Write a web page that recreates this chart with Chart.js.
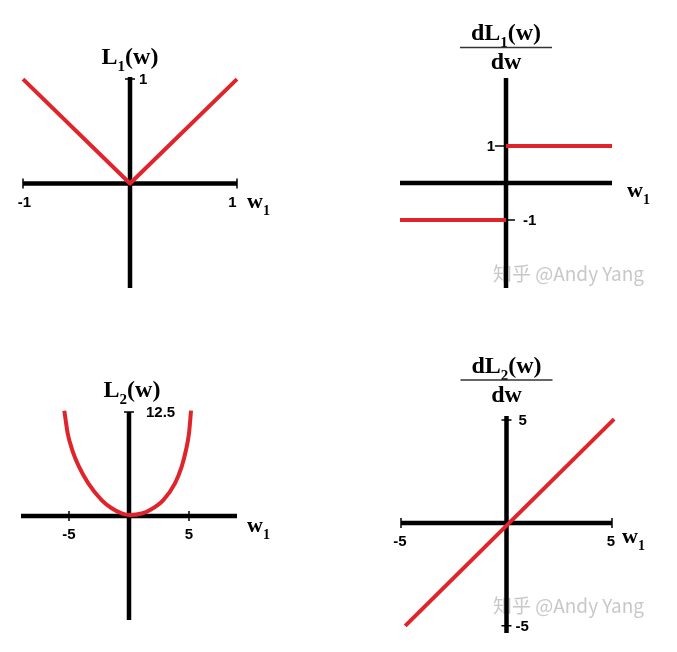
<!DOCTYPE html>
<html><head><meta charset="utf-8">
<script src="https://cdn.jsdelivr.net/npm/chart.js@4"></script>
<style>
html,body{margin:0;padding:0;background:#fff;width:677px;height:652px;overflow:hidden}
canvas.c{position:absolute;left:0;top:0}
</style></head><body>
<canvas id="c1" class="c" width="677" height="652"></canvas>
<canvas id="c2" class="c" width="677" height="652"></canvas>
<canvas id="c3" class="c" width="677" height="652"></canvas>
<canvas id="c4" class="c" width="677" height="652"></canvas>
<script>
// ---------- data ----------
const l1X = [-1, 0, 1];
const l1Y = [1, 0, 1];

const dl1UpperX = [0, 1];
const dl1UpperY = [1, 1];
const dl1LowerX = [-1, 0];
const dl1LowerY = [-1, -1];

const l2X = [-5.39, -5.28, -5.11, -4.73, -4.17, -3.39, -2.28, -1.44, -0.61, 0.08, 1.06, 1.75, 2.86, 3.83, 4.39, 4.75, 5.0, 5.17];
const l2Y = [12.66, 11.54, 9.94, 7.93, 5.93, 3.93, 1.92, 0.93, 0.32, 0.12, 0.3, 0.72, 1.92, 3.93, 5.93, 7.93, 9.94, 12.66];

const dl2X = [-4.8, 5.1];
const dl2Y = [-5, 5.05];

// tick values & labels
const l1XTicks = [-1, 1];      const l1XLabels = ['-1', '1'];
const l1YTicks = [1];          const l1YLabels = ['1'];
const dl1YTicks = [1, -1];     const dl1YLabels = ['1', '-1'];
const l2XTicks = [-5, 5];      const l2XLabels = ['-5', '5'];
const l2YTicks = [12.5];       const l2YLabels = ['12.5'];
const dl2XTicks = [-5, 5];     const dl2XLabels = ['-5', '5'];
const dl2YTicks = [5, -5];     const dl2YLabels = ['5', '-5'];

const watermark = '知乎 @Andy Yang';

// ---------- helpers ----------
const RED = '#e0242c';
const pts = (xs, ys) => xs.map((v, i) => ({x: v, y: ys[i]}));
const SERIF = '"Liberation Serif", "Times New Roman", serif';
const SANS = '"Liberation Sans", Arial, sans-serif';

function drawRich(ctx, parts, x, y, size, align) {
  const subSize = Math.round(size * 0.62);
  let w = 0;
  parts.forEach(p => {
    ctx.font = 'bold ' + (p.sub ? subSize : size) + 'px ' + SERIF;
    p.w = ctx.measureText(p.t).width; w += p.w;
  });
  let cx = align === 'center' ? x - w / 2 : x;
  ctx.textBaseline = 'alphabetic'; ctx.textAlign = 'left';
  parts.forEach(p => {
    ctx.font = 'bold ' + (p.sub ? subSize : size) + 'px ' + SERIF;
    ctx.fillText(p.t, cx, y + (p.sub ? size * 0.3 : 0));
    cx += p.w;
  });
}

function makePlugin(spec) {
  return {
    id: 'axesDeco',
    beforeDatasetsDraw(chart) {
      const {ctx, chartArea: a, scales: {x, y}} = chart;
      const x0 = x.getPixelForValue(0), y0 = y.getPixelForValue(0);
      ctx.save();
      if (spec.wm) {
        ctx.fillStyle = '#c8c8c8';
        ctx.font = '19px "Noto Sans CJK SC", "Noto Sans", sans-serif';
        ctx.textAlign = 'left'; ctx.textBaseline = 'alphabetic';
        ctx.fillText(watermark, spec.wm[0], spec.wm[1]);
      }
      ctx.strokeStyle = '#000'; ctx.lineWidth = 4.5; ctx.lineCap = 'butt';
      ctx.beginPath();
      ctx.moveTo(a.left, y0); ctx.lineTo(a.right, y0);
      ctx.moveTo(x0, a.top); ctx.lineTo(x0, a.bottom);
      ctx.stroke();
      // tick marks
      ctx.lineWidth = 1.5;
      ctx.beginPath();
      (spec.xTicks || []).forEach(v => {
        const px = x.getPixelForValue(v);
        ctx.moveTo(px, y0 - 5); ctx.lineTo(px, y0 + 5);
      });
      (spec.yTicks || []).forEach((v, i) => {
        const py = y.getPixelForValue(v);
        const m = spec.yMark ? spec.yMark[i] : [-5, 5];
        ctx.moveTo(x0 + m[0], py); ctx.lineTo(x0 + m[1], py);
      });
      ctx.stroke();
      ctx.restore();
    },
    afterDatasetsDraw(chart) {
      const {ctx, scales: {x, y}} = chart;
      const x0 = x.getPixelForValue(0), y0 = y.getPixelForValue(0);
      ctx.save();
      ctx.fillStyle = '#000';
      ctx.font = 'bold 15px ' + SANS;
      ctx.textBaseline = 'middle';
      (spec.xTicks || []).forEach((v, i) => {
        ctx.textAlign = 'center';
        ctx.fillText(spec.xLabels[i], x.getPixelForValue(v) + spec.xOff[i], y0 + spec.xDy);
      });
      (spec.yTicks || []).forEach((v, i) => {
        ctx.textAlign = spec.yAlign[i];
        ctx.fillText(spec.yLabels[i], x0 + spec.yOff[i], y.getPixelForValue(v) + 1);
      });
      // w1 label
      drawRich(ctx, [{t: 'w'}, {t: '1', sub: true}], spec.wLabel[0], spec.wLabel[1], 22, 'left');
      // title
      if (spec.title) {
        drawRich(ctx, [{t: 'L'}, {t: spec.title, sub: true}, {t: '(w)'}], x0 + spec.titlePos[0], spec.titlePos[1], 24, 'center');
      }
      if (spec.frac) {
        const f = spec.frac;
        drawRich(ctx, [{t: 'dL'}, {t: f.n, sub: true}, {t: '(w)'}], x0, f.num, 24, 'center');
        ctx.strokeStyle = '#333'; ctx.lineWidth = 1.5;
        ctx.beginPath(); ctx.moveTo(x0 - 46, f.line); ctx.lineTo(x0 + 46, f.line); ctx.stroke();
        drawRich(ctx, [{t: 'dw'}], x0, f.den, 24, 'center');
      }
      ctx.restore();
    }
  };
}

function makeChart(id, datasets, xr, yr, pad, spec) {
  new Chart(document.getElementById(id), {
    type: 'scatter',
    data: {datasets: datasets.map(d => Object.assign({
      showLine: true, borderColor: RED, backgroundColor: RED, borderWidth: 4,
      pointRadius: 0, clip: false, borderCapStyle: 'butt', borderJoinStyle: 'round'
    }, d))},
    options: {
      responsive: false, animation: false, events: [],
      layout: {padding: pad},
      plugins: {legend: {display: false}, tooltip: {enabled: false}},
      scales: {
        x: {type: 'linear', display: false, min: xr[0], max: xr[1]},
        y: {type: 'linear', display: false, min: yr[0], max: yr[1]}
      }
    },
    plugins: [makePlugin(spec)]
  });
}

// Chart 1: L1(w)
makeChart('c1', [{data: pts(l1X, l1Y)}], [-1, 1], [-1, 1.02],
  {left: 23, right: 440, top: 77, bottom: 364},
  {xTicks: l1XTicks, xLabels: l1XLabels, xOff: [1.5, -4.5], xDy: 19,
   yTicks: l1YTicks, yLabels: l1YLabels, yOff: [9], yAlign: ['left'],
   wLabel: [247, 208], title: '1', titlePos: [0, 64]});

// Chart 2: dL1/dw
makeChart('c2', [{data: pts(dl1UpperX, dl1UpperY)}, {data: pts(dl1LowerX, dl1LowerY)}], [-1, 1], [-2.84, 2.84],
  {left: 400, right: 65, top: 78, bottom: 364},
  {yTicks: dl1YTicks, yLabels: dl1YLabels, yOff: [-11, 17], yAlign: ['right', 'left'],
   yMark: [[-11, 0], [0, 9]], xTicks: [], xLabels: [], xOff: [], xDy: 0,
   wLabel: [627, 197], frac: {n: '1', num: 40, line: 47.5, den: 69}, wm: [493, 281]});

// Chart 3: L2(w)
makeChart('c3', [{data: pts(l2X, l2Y), cubicInterpolationMode: 'monotone'}], [-9, 9], [-12.5, 12.5],
  {left: 21, right: 440, top: 412, bottom: 32},
  {xTicks: l2XTicks, xLabels: l2XLabels, xOff: [0, 0], xDy: 19,
   yTicks: l2YTicks, yLabels: l2YLabels, yOff: [17], yAlign: ['left'],
   wLabel: [247, 532], title: '2', titlePos: [3, 397]});

// Chart 4: dL2/dw
makeChart('c4', [{data: pts(dl2X, dl2Y)}], [-5, 5], [-5.35, 5.2],
  {left: 401, right: 65, top: 416, bottom: 19},
  {xTicks: dl2XTicks, xLabels: dl2XLabels, xOff: [-1, -1], xDy: 19,
   yTicks: dl2YTicks, yLabels: dl2YLabels, yOff: [12, 9], yAlign: ['left', 'left'],
   wLabel: [622, 543], frac: {n: '2', num: 373, line: 380, den: 402}, wm: [493, 613]});
</script>
</body></html>
